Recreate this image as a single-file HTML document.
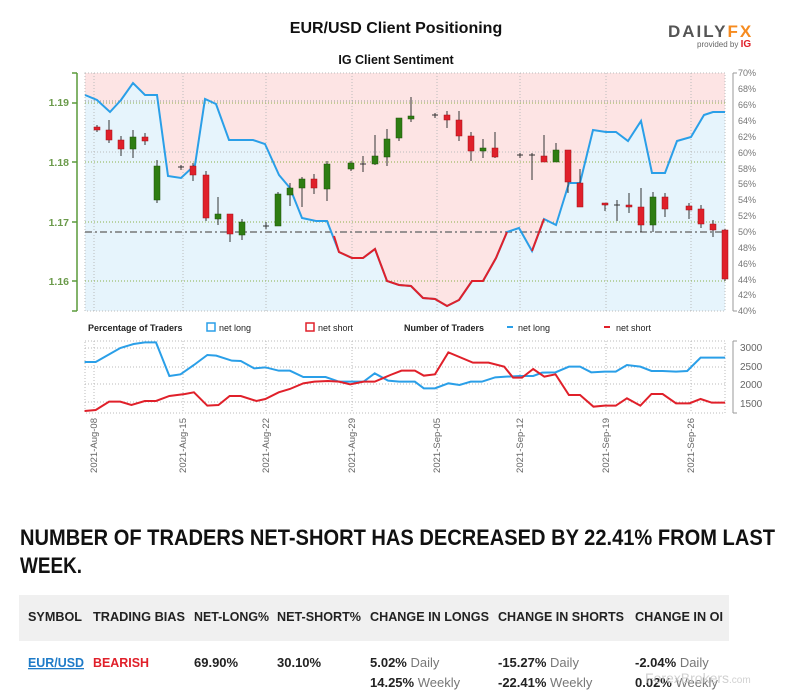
<!DOCTYPE html>
<html><head><meta charset="utf-8"><style>
html,body{margin:0;padding:0;background:#fff;}
svg{display:block;font-family:"Liberation Sans",sans-serif;}
</style></head><body>
<svg width="792" height="700" viewBox="0 0 792 700" xmlns="http://www.w3.org/2000/svg">
<rect width="792" height="700" fill="#fff"/>
<text x="396" y="33" text-anchor="middle" font-size="16" font-weight="bold" fill="#111">EUR/USD Client Positioning</text>
<text x="396" y="64" text-anchor="middle" font-size="12.5" font-weight="bold" fill="#111">IG Client Sentiment</text>
<text x="668" y="37" font-size="17" font-weight="bold" fill="#555" letter-spacing="2">DAILY<tspan fill="#f68b1f">FX</tspan></text>
<text x="697" y="47" font-size="8" fill="#666">provided by <tspan fill="#e0202a" font-weight="bold" font-size="10">IG</tspan></text>

<!-- main plot -->
<rect x="85" y="73" width="640" height="238" fill="#fde4e4"/>
<polygon fill="#e6f4fc" points="85,311 85,95 97,100 110,112 121,100 133,83 145,95 157,95 168,176 181,178 195,165 205,99 216,104 229,140 253,140 265,144 279,175 290,188 302,218 316,221 327,221 339,252 352,258 363,258 375,249 387,281 399,285 411,286 423,298 435,299 447,306 459,300 472,281 483,281 496,258 507,232 519,228 532,251 544,219 556,225 569,183 580,183 593,130 606,132 616,132 628,141 641,121 652,173 665,173 677,141 691,137 704,115 713,112 725,112 725,311"/>
<g stroke="#bbb" stroke-width="1" stroke-dasharray="1,2" fill="none">
<rect x="85" y="73" width="640" height="238"/>
<line x1="94" y1="73" x2="94" y2="311"/><line x1="183" y1="73" x2="183" y2="311"/><line x1="266" y1="73" x2="266" y2="311"/><line x1="352" y1="73" x2="352" y2="311"/><line x1="437" y1="73" x2="437" y2="311"/><line x1="520" y1="73" x2="520" y2="311"/><line x1="606" y1="73" x2="606" y2="311"/><line x1="691" y1="73" x2="691" y2="311"/>
<line x1="85" y1="101" x2="725" y2="101" stroke="#999"/><line x1="85" y1="152" x2="725" y2="152"/>
</g>
<g stroke="#8ab04a" stroke-width="1" stroke-dasharray="1,2">
<line x1="85" y1="103" x2="725" y2="103"/><line x1="85" y1="162" x2="725" y2="162"/><line x1="85" y1="222" x2="725" y2="222"/><line x1="85" y1="281" x2="725" y2="281"/>
</g>
<line x1="85" y1="232" x2="725" y2="232" stroke="#777" stroke-width="1.5" stroke-dasharray="7,3,2,3"/>
<polyline fill="none" stroke="#2a9fe8" stroke-width="2" points="85,95 97,100 110,112 121,100 133,83 145,95 157,95 168,176 181,178 195,165 205,99 216,104 229,140 253,140 265,144 279,175 290,188 302,218 316,221 327,221 339,252 352,258 363,258 375,249 387,281 399,285 411,286 423,298 435,299 447,306 459,300 472,281 483,281 496,258 507,232 519,228 532,251 544,219 556,225 569,183 580,183 593,130 606,132 616,132 628,141 641,121 652,173 665,173 677,141 691,137 704,115 713,112 725,112"/>
<polyline fill="none" stroke="#e0202a" stroke-width="2" points="334,236 339,252 352,258 363,258 375,249 387,281 399,285 411,286 423,298 435,299 447,306 459,300 472,281 483,281 496,258 507,232"/>
<polyline fill="none" stroke="#e0202a" stroke-width="2" points="532,251 544,219"/>
<!-- candles -->
<g stroke="#333" stroke-width="1">
<line x1="97" y1="125" x2="97" y2="132"/><line x1="109" y1="120" x2="109" y2="143"/><line x1="121" y1="136" x2="121" y2="156"/><line x1="133" y1="130" x2="133" y2="158"/><line x1="145" y1="133" x2="145" y2="145"/><line x1="157" y1="160" x2="157" y2="203"/><line x1="181" y1="165" x2="181" y2="170"/><line x1="193" y1="163" x2="193" y2="181"/><line x1="206" y1="171" x2="206" y2="221"/><line x1="218" y1="197" x2="218" y2="225"/><line x1="230" y1="214" x2="230" y2="242"/><line x1="242" y1="219" x2="242" y2="240"/><line x1="266" y1="222" x2="266" y2="229"/><line x1="278" y1="192" x2="278" y2="226"/><line x1="290" y1="183" x2="290" y2="206"/><line x1="302" y1="177" x2="302" y2="207"/><line x1="314" y1="174" x2="314" y2="194"/><line x1="327" y1="161" x2="327" y2="201"/><line x1="351" y1="161" x2="351" y2="171"/><line x1="363" y1="156" x2="363" y2="172"/><line x1="375" y1="135" x2="375" y2="165"/><line x1="387" y1="129" x2="387" y2="166"/><line x1="399" y1="118" x2="399" y2="141"/><line x1="411" y1="97" x2="411" y2="122"/><line x1="435" y1="113" x2="435" y2="118"/><line x1="447" y1="111" x2="447" y2="128"/><line x1="459" y1="111" x2="459" y2="141"/><line x1="471" y1="132" x2="471" y2="161"/><line x1="483" y1="139" x2="483" y2="158"/><line x1="495" y1="132" x2="495" y2="158"/><line x1="520" y1="153" x2="520" y2="158"/><line x1="532" y1="153" x2="532" y2="180"/><line x1="544" y1="135" x2="544" y2="162"/><line x1="556" y1="143" x2="556" y2="162"/><line x1="568" y1="150" x2="568" y2="193"/><line x1="580" y1="169" x2="580" y2="207"/><line x1="605" y1="203" x2="605" y2="211"/><line x1="617" y1="200" x2="617" y2="221"/><line x1="629" y1="193" x2="629" y2="213"/><line x1="641" y1="188" x2="641" y2="232"/><line x1="653" y1="192" x2="653" y2="232"/><line x1="665" y1="193" x2="665" y2="217"/><line x1="689" y1="203" x2="689" y2="219"/><line x1="701" y1="205" x2="701" y2="228"/><line x1="713" y1="220" x2="713" y2="237"/><line x1="725" y1="229" x2="725" y2="281"/>
<line x1="178" y1="167" x2="184" y2="167"/><line x1="263" y1="226" x2="269" y2="226"/><line x1="360" y1="164" x2="366" y2="164"/><line x1="432" y1="115" x2="438" y2="115"/><line x1="517" y1="155" x2="523" y2="155"/><line x1="529" y1="155" x2="535" y2="155"/><line x1="614" y1="205" x2="620" y2="205"/>
</g>
<g fill="#e0202a" stroke="#a01018" stroke-width="0.5">
<rect x="94" y="127" width="6" height="3"/><rect x="106" y="130" width="6" height="10"/><rect x="118" y="140" width="6" height="9"/><rect x="142" y="137" width="6" height="4"/><rect x="190" y="166" width="6" height="9"/><rect x="203" y="175" width="6" height="43"/><rect x="227" y="214" width="6" height="20"/><rect x="311" y="179" width="6" height="9"/><rect x="444" y="115" width="6" height="5"/><rect x="456" y="120" width="6" height="16"/><rect x="468" y="136" width="6" height="15"/><rect x="492" y="148" width="6" height="9"/><rect x="541" y="156" width="6" height="6"/><rect x="565" y="150" width="6" height="32"/><rect x="577" y="183" width="6" height="24"/><rect x="602" y="203" width="6" height="2"/><rect x="626" y="205" width="6" height="2"/><rect x="638" y="207" width="6" height="18"/><rect x="662" y="197" width="6" height="12"/><rect x="686" y="206" width="6" height="4"/><rect x="698" y="209" width="6" height="15"/><rect x="710" y="224" width="6" height="6"/><rect x="722" y="230" width="6" height="49"/>
</g>
<g fill="#2e7d12" stroke="#1e5008" stroke-width="0.5">
<rect x="130" y="137" width="6" height="12"/><rect x="154" y="166" width="6" height="34"/><rect x="215" y="214" width="6" height="5"/><rect x="239" y="222" width="6" height="13"/><rect x="275" y="194" width="6" height="32"/><rect x="287" y="188" width="6" height="7"/><rect x="299" y="179" width="6" height="9"/><rect x="324" y="164" width="6" height="25"/><rect x="348" y="163" width="6" height="6"/><rect x="372" y="156" width="6" height="8"/><rect x="384" y="139" width="6" height="18"/><rect x="396" y="118" width="6" height="20"/><rect x="408" y="116" width="6" height="3"/><rect x="480" y="148" width="6" height="3"/><rect x="553" y="150" width="6" height="12"/><rect x="650" y="197" width="6" height="28"/>
</g>
<!-- left axis -->
<g stroke="#5a9a3a" stroke-width="1.5"><line x1="77" y1="73" x2="77" y2="311"/><line x1="72" y1="73" x2="77" y2="73"/><line x1="72" y1="311" x2="77" y2="311"/><line x1="72" y1="103" x2="77" y2="103"/><line x1="72" y1="162" x2="77" y2="162"/><line x1="72" y1="222" x2="77" y2="222"/><line x1="72" y1="281" x2="77" y2="281"/></g>
<g font-size="10.5" font-weight="bold" fill="#6a9a4a" text-anchor="end"><text x="69" y="106">1.19</text><text x="69" y="166">1.18</text><text x="69" y="226">1.17</text><text x="69" y="285">1.16</text></g>
<!-- right axis -->
<line x1="733" y1="73" x2="733" y2="311" stroke="#999"/>
<g stroke="#999"><line x1="733" y1="73" x2="737" y2="73"/><line x1="733" y1="311" x2="737" y2="311"/></g>
<g font-size="9" fill="#777">
<text x="738" y="76">70%</text><text x="738" y="92">68%</text><text x="738" y="108">66%</text><text x="738" y="124">64%</text><text x="738" y="140">62%</text><text x="738" y="156">60%</text><text x="738" y="172">58%</text><text x="738" y="187">56%</text><text x="738" y="203">54%</text><text x="738" y="219">52%</text><text x="738" y="235">50%</text><text x="738" y="251">48%</text><text x="738" y="267">46%</text><text x="738" y="283">44%</text><text x="738" y="298">42%</text><text x="738" y="314">40%</text>
</g>

<!-- legend -->
<g font-size="9" fill="#222">
<text x="88" y="331" font-weight="bold">Percentage of Traders</text>
<rect x="207" y="323" width="8" height="8" fill="none" stroke="#2a9fe8" stroke-width="1.5"/>
<text x="219" y="331">net long</text>
<rect x="306" y="323" width="8" height="8" fill="none" stroke="#e0202a" stroke-width="1.5"/>
<text x="318" y="331">net short</text>
<text x="404" y="331" font-weight="bold">Number of Traders</text>
<line x1="507" y1="327" x2="513" y2="327" stroke="#2a9fe8" stroke-width="2"/>
<text x="518" y="331">net long</text>
<line x1="604" y1="327" x2="610" y2="327" stroke="#e0202a" stroke-width="2"/>
<text x="616" y="331">net short</text>
</g>

<!-- bottom chart -->
<g stroke="#bbb" stroke-width="1" stroke-dasharray="1,2" fill="none">
<rect x="85" y="341" width="640" height="72"/>
<line x1="85" y1="348" x2="725" y2="348"/><line x1="85" y1="367" x2="725" y2="367"/><line x1="85" y1="384" x2="725" y2="384"/><line x1="85" y1="402" x2="725" y2="402"/>
<line x1="94" y1="341" x2="94" y2="413"/><line x1="183" y1="341" x2="183" y2="413"/><line x1="266" y1="341" x2="266" y2="413"/><line x1="352" y1="341" x2="352" y2="413"/><line x1="437" y1="341" x2="437" y2="413"/><line x1="520" y1="341" x2="520" y2="413"/><line x1="606" y1="341" x2="606" y2="413"/><line x1="691" y1="341" x2="691" y2="413"/>
</g>
<g transform="translate(60,315) scale(0.4464,0.3333)" fill="none" stroke-width="2">
<polyline vector-effect="non-scaling-stroke" stroke="#2a9fe8" points="55,141 80,141 110,118 135,99 165,87 190,82 215,82 245,183 270,178 300,150 330,120 350,122 385,137 405,138 435,160 460,157 490,167 515,167 545,186 595,186 625,200 650,200 680,200 705,175 735,197 760,200 795,200 815,220 840,220 870,205 895,210 920,200 945,200 975,187 1000,185 1030,183 1060,183 1080,173 1110,172 1140,155 1165,155 1190,172 1220,170 1245,170 1270,150 1300,155 1325,168 1350,168 1380,170 1405,168 1435,128 1470,128 1490,128"/>
<polyline vector-effect="non-scaling-stroke" stroke="#e0202a" points="55,288 80,285 110,260 135,260 160,270 190,258 215,258 245,243 280,237 300,232 330,272 355,270 380,243 405,243 440,258 460,252 490,232 515,222 545,205 570,200 600,198 625,200 650,208 680,200 705,200 740,180 765,167 795,167 815,182 840,178 870,112 925,143 960,143 995,155 1015,188 1035,188 1060,162 1085,185 1110,178 1140,240 1165,240 1195,275 1220,272 1245,272 1270,250 1300,272 1325,237 1350,237 1380,265 1410,265 1435,252 1460,263 1490,263"/>
</g>
<line x1="733" y1="341" x2="733" y2="413" stroke="#999"/>
<g stroke="#999"><line x1="733" y1="341" x2="737" y2="341"/><line x1="733" y1="413" x2="737" y2="413"/></g>
<g font-size="10" fill="#666"><text x="740" y="351">3000</text><text x="740" y="370">2500</text><text x="740" y="388">2000</text><text x="740" y="407">1500</text></g>
<g font-size="9.5" fill="#666" text-anchor="end">
<text transform="translate(97,418) rotate(-90)">2021-Aug-08</text>
<text transform="translate(186,418) rotate(-90)">2021-Aug-15</text>
<text transform="translate(269,418) rotate(-90)">2021-Aug-22</text>
<text transform="translate(355,418) rotate(-90)">2021-Aug-29</text>
<text transform="translate(440,418) rotate(-90)">2021-Sep-05</text>
<text transform="translate(523,418) rotate(-90)">2021-Sep-12</text>
<text transform="translate(609,418) rotate(-90)">2021-Sep-19</text>
<text transform="translate(694,418) rotate(-90)">2021-Sep-26</text>
</g>

<!-- headline -->
<g font-size="22" font-weight="bold" fill="#111">
<text x="20" y="545" textLength="755" lengthAdjust="spacingAndGlyphs">NUMBER OF TRADERS NET-SHORT HAS DECREASED BY 22.41% FROM LAST</text>
<text x="20" y="573" textLength="62" lengthAdjust="spacingAndGlyphs">WEEK.</text>
</g>

<!-- table -->
<rect x="19" y="595" width="710" height="46" fill="#f0f0f0"/>
<g font-size="13" fill="#222" font-weight="bold">
<text x="28" y="621" textLength="54" lengthAdjust="spacingAndGlyphs">SYMBOL</text>
<text x="93" y="621" textLength="92" lengthAdjust="spacingAndGlyphs">TRADING BIAS</text>
<text x="194" y="621" textLength="75" lengthAdjust="spacingAndGlyphs">NET-LONG%</text>
<text x="277" y="621" textLength="84" lengthAdjust="spacingAndGlyphs">NET-SHORT%</text>
<text x="370" y="621" textLength="119" lengthAdjust="spacingAndGlyphs">CHANGE IN LONGS</text>
<text x="498" y="621" textLength="126" lengthAdjust="spacingAndGlyphs">CHANGE IN SHORTS</text>
<text x="635" y="621" textLength="88" lengthAdjust="spacingAndGlyphs">CHANGE IN OI</text>
<text x="28" y="667" fill="#1e7bc8" text-decoration="underline" textLength="56" lengthAdjust="spacingAndGlyphs">EUR/USD</text>
<text x="93" y="667" fill="#e0202a" textLength="56" lengthAdjust="spacingAndGlyphs">BEARISH</text>
<text x="194" y="667">69.90%</text>
<text x="277" y="667">30.10%</text>
<text x="370" y="667">5.02% <tspan fill="#777" font-weight="normal">Daily</tspan></text>
<text x="370" y="687">14.25% <tspan fill="#777" font-weight="normal">Weekly</tspan></text>
<text x="498" y="667">-15.27% <tspan fill="#777" font-weight="normal">Daily</tspan></text>
<text x="498" y="687">-22.41% <tspan fill="#777" font-weight="normal">Weekly</tspan></text>
<text x="635" y="667">-2.04% <tspan fill="#777" font-weight="normal">Daily</tspan></text>
<text x="635" y="687">0.02% <tspan fill="#777" font-weight="normal">Weekly</tspan></text>
</g>
<text x="645" y="683" font-size="14" fill="#ccc" opacity="0.9">ForexBrokers<tspan font-size="10">.com</tspan></text>
</svg>
</body></html>
